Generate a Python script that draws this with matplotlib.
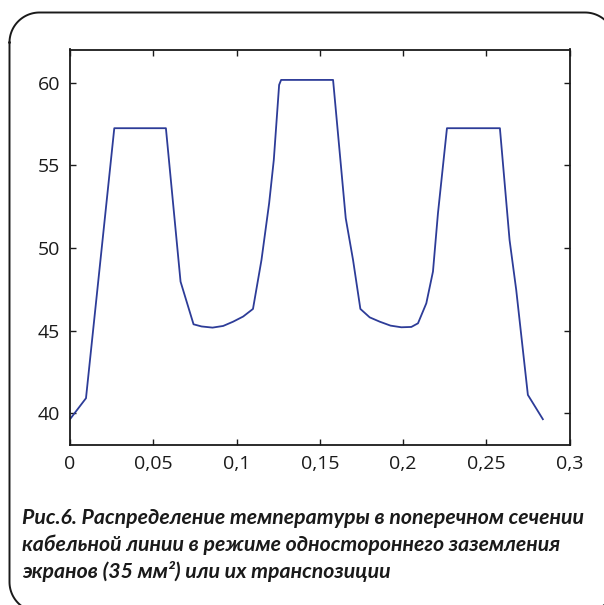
import matplotlib
matplotlib.use("Agg")
import numpy as np
import matplotlib.pyplot as plt

# distance (m) and temperature (°C)
x_vals = [0.0, 0.0096, 0.0266, 0.0576, 0.0664, 0.0742, 0.0790, 0.0856, 0.0920,
          0.0980, 0.1040, 0.1099, 0.1150, 0.1196, 0.1224, 0.1256, 0.1268,
          0.1580, 0.1656, 0.1700, 0.1744, 0.1800, 0.1860, 0.1925, 0.1990,
          0.2050, 0.2090, 0.2140, 0.2180, 0.2210, 0.2264, 0.2582, 0.2640,
          0.2680, 0.2750, 0.2840]
t_vals = [39.64, 40.91, 57.24, 57.24, 47.96, 45.38, 45.25, 45.18, 45.28,
          45.54, 45.85, 46.31, 49.27, 52.70, 55.32, 59.86, 60.16,
          60.16, 51.80, 49.27, 46.31, 45.80, 45.54, 45.30, 45.20,
          45.22, 45.44, 46.65, 48.57, 52.10, 57.24, 57.24, 50.48,
          47.46, 41.11, 39.64]

x_ticks = [0, 0.05, 0.1, 0.15, 0.2, 0.25, 0.3]
x_tick_labels = ["0", "0,05", "0,1", "0,15", "0,2", "0,25", "0,3"]
y_ticks = [40, 45, 50, 55, 60]
y_tick_labels = ["40", "45", "50", "55", "60"]

caption = ("Рис.6. Распределение температуры в поперечном сечении\n"
           "кабельной линии в режиме одностороннего заземления\n"
           "экранов (35 мм²) или их транспозиции")

W, H = 604, 605
fig = plt.figure(figsize=(W / 100, H / 100), dpi=100)
fig.patch.set_facecolor("white")

# rounded frame drawn in pixel space (top-left origin), cut by right/bottom edges
bg = fig.add_axes([0, 0, 1, 1])
bg.set_xlim(0, W)
bg.set_ylim(H, 0)
bg.axis("off")
r = 30
L, T, R, B = 9.5, 12.5, 615, 612
def arc(cx, cy, a0, a1):
    a = np.radians(np.linspace(a0, a1, 30))
    return cx + r * np.cos(a), cy + r * np.sin(a)
segs = []
xs, ys = [], []
for (cx, cy, a0, a1) in [(L + r, T + r, 180, 270), (R - r, T + r, 270, 360),
                         (R - r, B - r, 0, 90), (L + r, B - r, 90, 180)]:
    ax_, ay_ = arc(cx, cy, a0, a1)
    xs.extend(ax_); ys.extend(ay_)
xs.append(xs[0]); ys.append(ys[0])
bg.plot(xs, ys, color="#1a1a1a", linewidth=1.4, clip_on=False)

ax = fig.add_axes([70 / W, 1 - 445 / H, 499.5 / W, (445 - 49.5) / H])
ax.plot(x_vals, t_vals, color="#2d3c98", linewidth=1.3)
ax.set_xlim(0, 0.3)
ax.set_ylim(38.08, 62.0)
ax.set_xticks(x_ticks)
ax.set_xticklabels(x_tick_labels)
ax.set_yticks(y_ticks)
ax.set_yticklabels(y_tick_labels)
ax.tick_params(direction="in", length=4.5, width=1.0, top=True, right=True,
               labelsize=14, pad=7, colors="#1a1a1a")
for lab in ax.get_xticklabels() + ax.get_yticklabels():
    lab.set_family("Open Sans")
for s in ax.spines.values():
    s.set_linewidth(1.3)
    s.set_color("#1a1a1a")

fig.text(22 / W, 1 - 508 / H, caption, ha="left", va="top",
         fontfamily="Lato", fontweight="bold", fontstyle="italic",
         fontsize=15.3, linespacing=1.38, color="#1a1a1a")

fig.savefig("out.png", dpi=100)
